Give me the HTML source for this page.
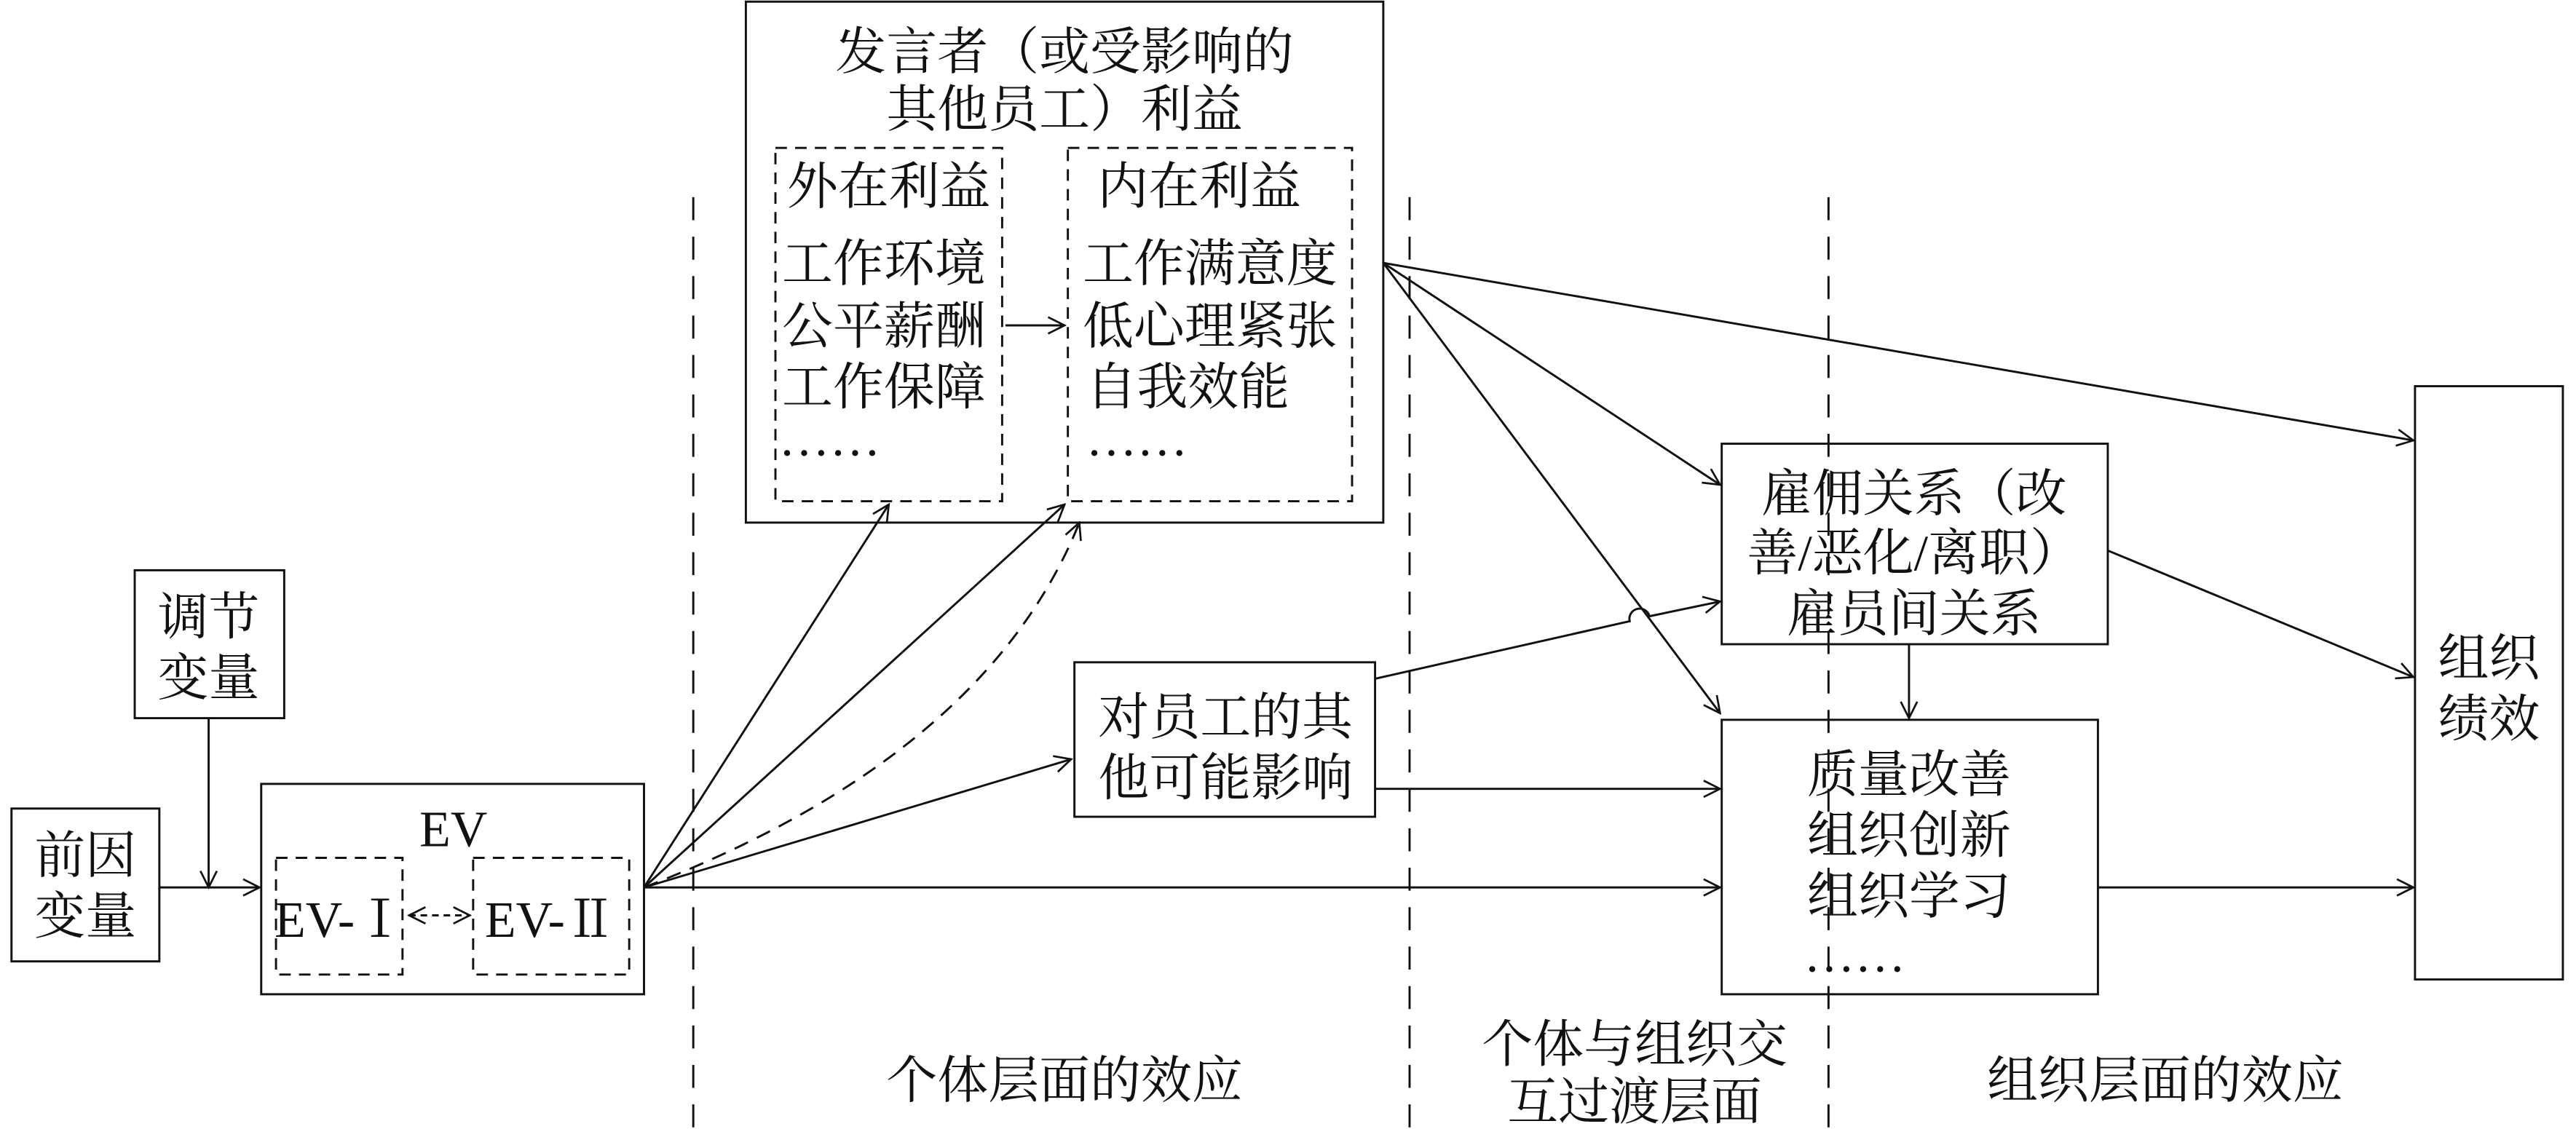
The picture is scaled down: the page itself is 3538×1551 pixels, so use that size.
<!DOCTYPE html>
<html><head><meta charset="utf-8"><style>
html,body{margin:0;padding:0;background:#fff;}
svg{display:block;}
text{font-family:"Liberation Serif","Noto Serif CJK SC","Noto Sans CJK SC",serif;font-size:31px;fill:#111;}
</style></head><body>
<svg width="3538" height="1551" viewBox="0 0 1568 687" preserveAspectRatio="none" xmlns="http://www.w3.org/2000/svg">
<defs>
<marker id="a" viewBox="0 0 12 12" refX="11" refY="6" markerWidth="12" markerHeight="12" markerUnits="userSpaceOnUse" orient="auto">
<polyline points="1,1 11,6 1,11" fill="none" stroke="#111" stroke-width="1.2"/>
</marker>
<marker id="as" viewBox="0 0 12 12" refX="1" refY="6" markerWidth="12" markerHeight="12" markerUnits="userSpaceOnUse" orient="auto">
<polyline points="11,1 1,6 11,11" fill="none" stroke="#111" stroke-width="1.2"/>
</marker>
</defs>
<g fill="none" stroke="#111" stroke-width="1.3">
<!-- boxes -->
<rect x="454" y="1" width="388" height="317"/>
<rect x="82" y="347" width="91" height="90"/>
<rect x="7" y="492" width="90" height="93"/>
<rect x="159" y="477" width="233" height="128"/>
<rect x="654" y="403" width="183" height="94"/>
<rect x="1048" y="270" width="235" height="122"/>
<rect x="1048" y="438" width="229" height="167"/>
<rect x="1470" y="235" width="90" height="361"/>
<!-- dashed boxes -->
<g stroke-dasharray="7,5">
<rect x="472" y="90" width="138" height="215"/>
<rect x="650" y="90" width="173" height="215"/>
<rect x="168" y="522" width="77" height="71"/>
<rect x="288" y="522" width="95" height="71"/>
</g>
<!-- dividers -->
<g stroke-dasharray="14,10">
<line x1="422" y1="120" x2="422" y2="687"/>
<line x1="858" y1="120" x2="858" y2="687"/>
<line x1="1113" y1="120" x2="1113" y2="687"/>
</g>
<!-- arrows -->
<line x1="612" y1="198" x2="648" y2="198" marker-end="url(#a)"/>
<line x1="127" y1="437" x2="127" y2="540" marker-end="url(#a)"/>
<line x1="97" y1="540" x2="158" y2="540" marker-end="url(#a)"/>
<line x1="249" y1="557" x2="286" y2="557" stroke-dasharray="4,3" marker-end="url(#a)" marker-start="url(#as)"/>
<line x1="392" y1="540" x2="541" y2="307" marker-end="url(#a)"/>
<line x1="392" y1="540" x2="648" y2="307" marker-end="url(#a)"/>
<path d="M392,540 Q600,460 657,318" stroke-dasharray="9,6" marker-end="url(#a)"/>
<line x1="392" y1="540" x2="652" y2="462" marker-end="url(#a)"/>
<line x1="392" y1="540" x2="1047" y2="540" marker-end="url(#a)"/>
<line x1="842" y1="160" x2="1469" y2="268" marker-end="url(#a)"/>
<line x1="842" y1="160" x2="1047" y2="295" marker-end="url(#a)"/>
<line x1="842" y1="160" x2="1047" y2="434" marker-end="url(#a)"/>
<path d="M837,413 L992,378 A6,6 0 0 1 1004,375 L1047,366" marker-end="url(#a)"/>
<line x1="837" y1="480" x2="1047" y2="480" marker-end="url(#a)"/>
<line x1="1283" y1="335" x2="1469" y2="412" marker-end="url(#a)"/>
<line x1="1162" y1="392" x2="1162" y2="437" marker-end="url(#a)"/>
<line x1="1277" y1="540" x2="1469" y2="540" marker-end="url(#a)"/>
</g>
<!-- text -->
<g text-anchor="middle">
<text x="648" y="42">发言者（或受影响的</text>
<text x="648" y="77">其他员工）利益</text>
<text x="541" y="124">外在利益</text>
<text x="730" y="124">内在利益</text>
<text x="127" y="386">调节</text>
<text x="127" y="423">变量</text>
<text x="52" y="531">前因</text>
<text x="52" y="568">变量</text>
<text x="276" y="515">EV</text>
<text x="207" y="570">EV-Ⅰ</text>
<text x="335" y="570">EV-Ⅱ</text>
<text x="746" y="447">对员工的其</text>
<text x="746" y="484">他可能影响</text>
<text x="1165" y="311">雇佣关系（改</text>
<text x="1165" y="347">善/恶化/离职）</text>
<text x="1165" y="384">雇员间关系</text>
<text x="1162" y="482">质量改善</text>
<text x="1162" y="519">组织创新</text>
<text x="1162" y="556">组织学习</text>
<text x="1515" y="411">组织</text>
<text x="1515" y="448">绩效</text>
<text x="648" y="668">个体层面的效应</text>
<text x="995" y="646">个体与组织交</text>
<text x="995" y="681">互过渡层面</text>
<text x="1318" y="668">组织层面的效应</text>
</g>
<g>
<text x="476" y="171">工作环境</text>
<text x="476" y="209">公平薪酬</text>
<text x="476" y="246">工作保障</text>
<text x="474" y="277">……</text>
<text x="659" y="171">工作满意度</text>
<text x="659" y="209">低心理紧张</text>
<text x="661" y="246">自我效能</text>
<text x="661" y="277">……</text>
<text x="1098" y="591">……</text>
</g>
</svg>
</body></html>
